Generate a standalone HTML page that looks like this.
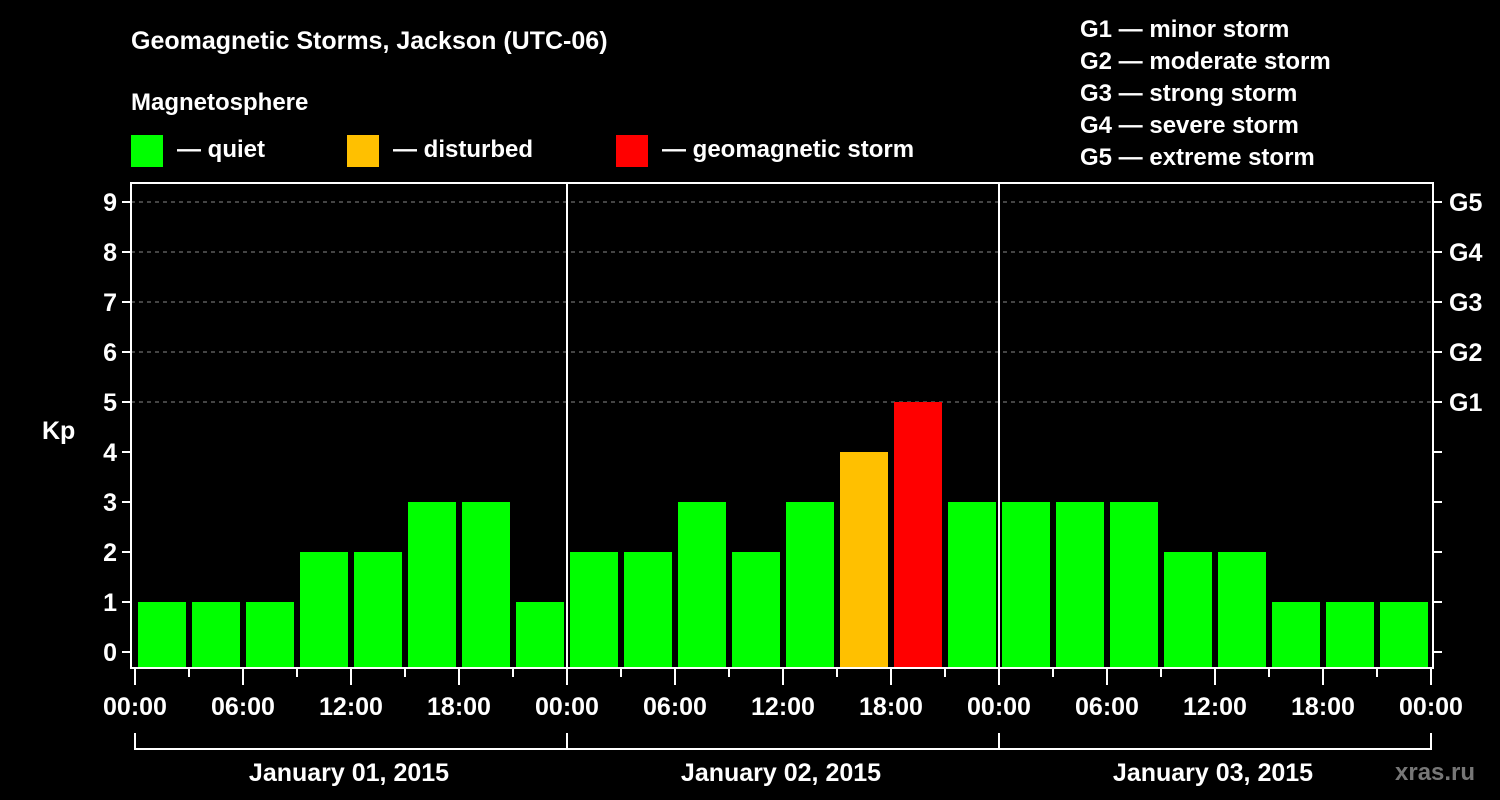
<!DOCTYPE html>
<html><head><meta charset="utf-8"><style>
html,body{margin:0;padding:0;background:#000;overflow:hidden;width:1500px;height:800px;}
svg{display:block;}
svg text{font-family:"Liberation Sans",Arial,sans-serif;font-weight:bold;fill:#fff;}
</style></head><body>
<svg id="c" width="1500" height="800" viewBox="0 0 1500 800">
<rect width="1500" height="800" fill="#000"/>
<text x="131" y="49" font-size="25">Geomagnetic Storms, Jackson (UTC-06)</text>
<text x="131" y="110" font-size="24">Magnetosphere</text>
<g><rect x="131" y="135" width="32" height="32" fill="#00ff00"/><text x="177" y="157" font-size="24">— quiet</text></g>
<g><rect x="347" y="135" width="32" height="32" fill="#ffc000"/><text x="393" y="157" font-size="24">— disturbed</text></g>
<g><rect x="616" y="135" width="32" height="32" fill="#ff0000"/><text x="662" y="157" font-size="24">— geomagnetic storm</text></g>
<g font-size="24">
<text x="1080" y="37">G1 — minor storm</text>
<text x="1080" y="69">G2 — moderate storm</text>
<text x="1080" y="101">G3 — strong storm</text>
<text x="1080" y="133">G4 — severe storm</text>
<text x="1080" y="165">G5 — extreme storm</text>
</g>
<text x="42" y="439" font-size="25">Kp</text>
<text x="1395" y="780" font-size="24" style="fill:#777">xras.ru</text>
<g id="plot"></g>
</svg>
<script>
const kpValues=[1,1,1,2,2,3,3,1, 2,2,3,2,3,4,5,3, 3,3,3,2,2,1,1,1];
const dayLabels=["January 01, 2015","January 02, 2015","January 03, 2015"];
const yTicks=[0,1,2,3,4,5,6,7,8,9];
const gLabels=["G1","G2","G3","G4","G5"];
const hourLabels=["00:00","06:00","12:00","18:00"];
const NS="http://www.w3.org/2000/svg";
const plotG=document.getElementById('plot');
const x0=135,dayW=432,slotW=54,yZero=652,unit=50,plotLeft=131,plotRight=1433,plotTop=183,plotBottom=668;
const xs=i=>x0+i*slotW;
const ys=v=>yZero-v*unit;
function el(t,a){const e=document.createElementNS(NS,t);for(const k in a)e.setAttribute(k,a[k]);plotG.appendChild(e);return e;}
function barColor(v){return v>=5?'#ff0000':(v>=4?'#ffc000':'#00ff00');}
yTicks.forEach(v=>{
  if(v>=5){const l=el('line',{x1:plotLeft,x2:plotRight,y1:ys(v),y2:ys(v),stroke:'#888','stroke-dasharray':'4,4','stroke-width':1});
  
  }
  const t=el('line',{x1:plotLeft-9,x2:plotLeft,y1:ys(v),y2:ys(v),stroke:'#fff','stroke-width':2});
  
  
  const t2=el('line',{x1:plotRight,x2:plotRight+9,y1:ys(v),y2:ys(v),stroke:'#fff','stroke-width':2});
  
  
  const tx=el('text',{x:plotLeft-14,y:ys(v)+9,'font-size':25,'text-anchor':'end'});tx.textContent=v;
  
  
});
gLabels.forEach((s,i)=>{const tx=el('text',{x:1449,y:ys(5+i)+9,'font-size':25});tx.textContent=s;
  
  });
kpValues.forEach((v,i)=>{
  const r=el('rect',{x:xs(i)+3,y:ys(v),width:48,height:plotBottom-1-ys(v),fill:barColor(v)});
  
  
});
for(let d=1;d<dayLabels.length;d++){const l=el('line',{x1:x0+d*dayW,x2:x0+d*dayW,y1:plotTop,y2:plotBottom,stroke:'#fff','stroke-width':2});
  
  }
const fr=el('rect',{x:plotLeft,y:plotTop,width:plotRight-plotLeft,height:plotBottom-plotTop,fill:'none',stroke:'#fff','stroke-width':2});


for(let i=0;i<=kpValues.length;i++){
  const major=i%2===0;
  const l=el('line',{x1:xs(i),x2:xs(i),y1:plotBottom,y2:plotBottom+(major?17:9),stroke:'#fff','stroke-width':2});
  
  
  if(major){const tx=el('text',{x:xs(i),y:715,'font-size':25,'text-anchor':'middle'});tx.textContent=hourLabels[(i/2)%4];
  
  }
}
const br=el('line',{x1:x0,x2:x0+dayLabels.length*dayW,y1:749,y2:749,stroke:'#fff','stroke-width':2});


for(let d=0;d<=dayLabels.length;d++){const l=el('line',{x1:x0+d*dayW,x2:x0+d*dayW,y1:733,y2:750,stroke:'#fff','stroke-width':2});
  
  }
dayLabels.forEach((s,d)=>{const tx=el('text',{x:x0+d*dayW+dayW/2-2,y:781,'font-size':25,'text-anchor':'middle'});tx.textContent=s;
  
  });
</script>
</body></html>
